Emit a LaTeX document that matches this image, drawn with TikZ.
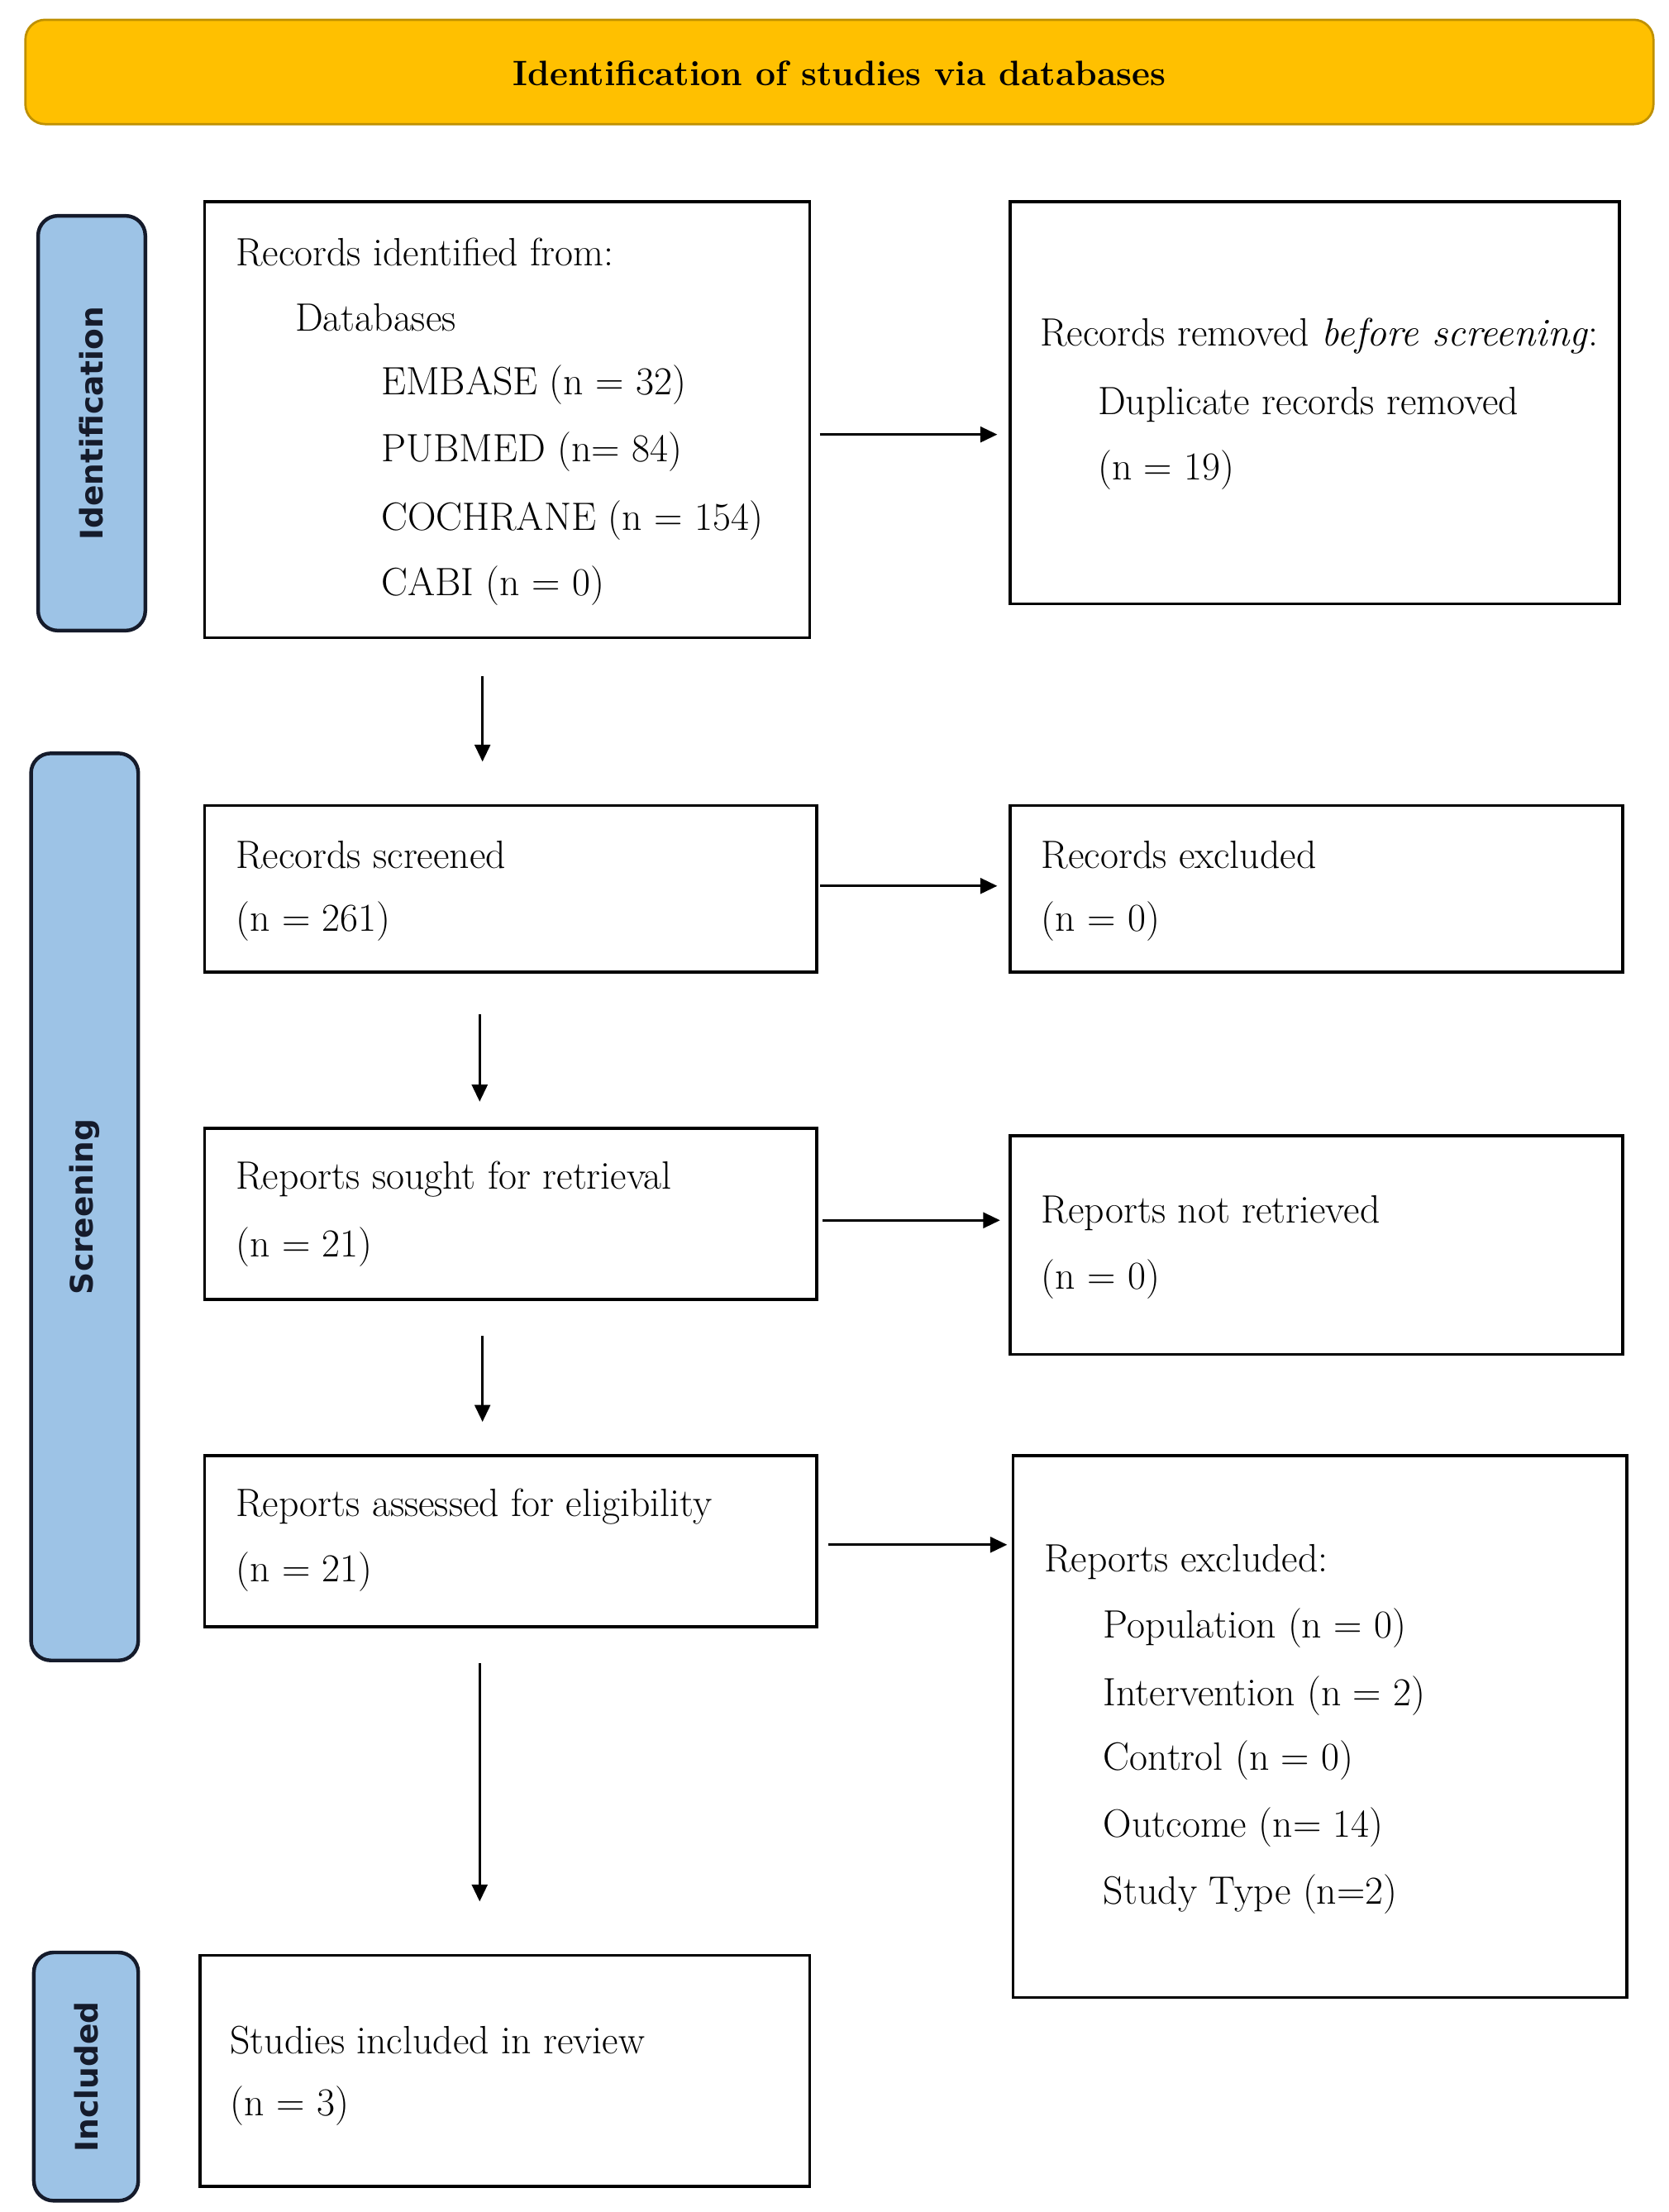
\documentclass[tikz,border=0pt]{standalone}
\usepackage{fontspec}
\newfontfamily\labfont{DejaVu Sans}
\usetikzlibrary{arrows.meta}
\definecolor{bannerfill}{HTML}{FFC000}
\definecolor{bannerdraw}{HTML}{BF9000}
\definecolor{labfill}{HTML}{9DC3E6}
\definecolor{labdraw}{HTML}{151B2B}
\tikzset{
  box/.style={draw=black, line width=2.2pt, rectangle, inner sep=0pt},
  banner/.style={draw=bannerdraw, fill=bannerfill, line width=1.6pt, rounded corners=14pt, inner sep=0pt},
  phase/.style={draw=labdraw, fill=labfill, line width=2.6pt, rounded corners=14pt, inner sep=0pt},
  phasetext/.style={rotate=90, font=\labfont\bfseries\fontsize{22}{26}\selectfont, text=labdraw, inner sep=0pt},
  txt/.style={anchor=west, inner sep=0pt, font=\fontsize{28}{32}\selectfont},
  arr/.style={line width=1.8pt, -{Triangle[length=12pt,width=11pt]}},
}
\begin{document}
\begin{tikzpicture}[x=1pt,y=-1pt]
\useasboundingbox (0,0) rectangle (1183,1568);
% banner
\node[banner, minimum width=1154pt, minimum height=74pt] (ban) at (595,51) {};
\node[inner sep=0pt, font=\bfseries\fontsize{25}{29}\selectfont] (bant) at (595,52) {Identification of studies via databases};
% phase labels
\node[phase, minimum width=76pt, minimum height=294pt] (L1) at (65,300) {};
\node[phasetext] (L1t) at (65,300) {Identification};
\node[phase, minimum width=76pt, minimum height=643pt] (L2) at (60,855.5) {};
\node[phasetext] (L2t) at (60,855.5) {Screening};
\node[phase, minimum width=74pt, minimum height=176pt] (L3) at (61,1472) {};
\node[phasetext] (L3t) at (61,1472) {Included};
% boxes
\node[box, minimum width=429pt, minimum height=309pt] (b1) at (359.5,297.5) {};
\node[box, minimum width=432pt, minimum height=285pt] (r1) at (932,285.5) {};
\node[box, minimum width=434pt, minimum height=118pt] (b2) at (362,630) {};
\node[box, minimum width=434pt, minimum height=118pt] (r2) at (933,630) {};
\node[box, minimum width=434pt, minimum height=121pt] (b3) at (362,860.5) {};
\node[box, minimum width=434pt, minimum height=155pt] (r3) at (933,882.5) {};
\node[box, minimum width=434pt, minimum height=121pt] (b4) at (362,1092.5) {};
\node[box, minimum width=435pt, minimum height=384pt] (r4) at (935.5,1224) {};
\node[box, minimum width=432pt, minimum height=164pt] (b5) at (358,1468) {};
% texts box 1
\node[txt] (t11) at (167,179) {Records identified from:};
\node[txt] (t12) at (209,225) {Databases};
\node[txt] (t13) at (270,273) {EMBASE (n = 32)};
\node[txt] (t14) at (270,320) {PUBMED (n= 84)};
\node[txt] (t15) at (270,369) {COCHRANE (n = 154)};
\node[txt] (t16) at (270,415) {CABI (n = 0)};
% r1
\node[txt] (u11) at (737,238) {Records removed \textit{before screening}:};
\node[txt] (u12) at (778,287) {Duplicate records removed};
\node[txt] (u13) at (778,333) {(n = 19)};
% b2 / r2
\node[txt] (t21) at (167,606) {Records screened};
\node[txt] (t22) at (167,653) {(n = 261)};
\node[txt] (u21) at (738,606) {Records excluded};
\node[txt] (u22) at (738,653) {(n = 0)};
% b3 / r3
\node[txt] (t31) at (167,836) {Reports sought for retrieval};
\node[txt] (t32) at (167,884) {(n = 21)};
\node[txt] (u31) at (738,860) {Reports not retrieved};
\node[txt] (u32) at (738,907) {(n = 0)};
% b4 / r4
\node[txt] (t41) at (167,1068) {Reports assessed for eligibility};
\node[txt] (t42) at (167,1114) {(n = 21)};
\node[txt] (u41) at (740,1107) {Reports excluded:};
\node[txt] (u42) at (782,1154) {Population (n = 0)};
\node[txt] (u43) at (782,1202) {Intervention (n = 2)};
\node[txt] (u44) at (782,1248) {Control (n = 0)};
\node[txt] (u45) at (782,1295) {Outcome (n= 14)};
\node[txt] (u46) at (782,1343) {Study Type (n=2)};
% b5
\node[txt] (t51) at (163,1446) {Studies included in review};
\node[txt] (t52) at (163,1493) {(n = 3)};
% horizontal arrows
\draw[arr] ([xshift=6pt,yshift=-10.5pt]b1.east) -- ([xshift=-8pt,yshift=-22.5pt]r1.west);
\draw[arr] ([xshift=1pt,yshift=2pt]b2.east) -- ([xshift=-8pt,yshift=2pt]r2.west);
\draw[arr] ([xshift=3pt,yshift=-4.5pt]b3.east) -- ([xshift=-6pt,yshift=17.5pt]r3.west);
\draw[arr] ([xshift=7pt,yshift=-2.5pt]b4.east) -- ([xshift=-3pt,yshift=129pt]r4.west);
% vertical arrows
\draw[arr] ([xshift=-17.5pt,yshift=-26pt]b1.south) -- ([xshift=-20pt,yshift=30pt]b2.north);
\draw[arr] ([xshift=-22pt,yshift=-29pt]b2.south) -- ([xshift=-22pt,yshift=18pt]b3.north);
\draw[arr] ([xshift=-20pt,yshift=-25pt]b3.south) -- ([xshift=-20pt,yshift=23pt]b4.north);
\draw[arr] ([xshift=-22pt,yshift=-25pt]b4.south) -- ([xshift=-18pt,yshift=37pt]b5.north);
\end{tikzpicture}
\end{document}
